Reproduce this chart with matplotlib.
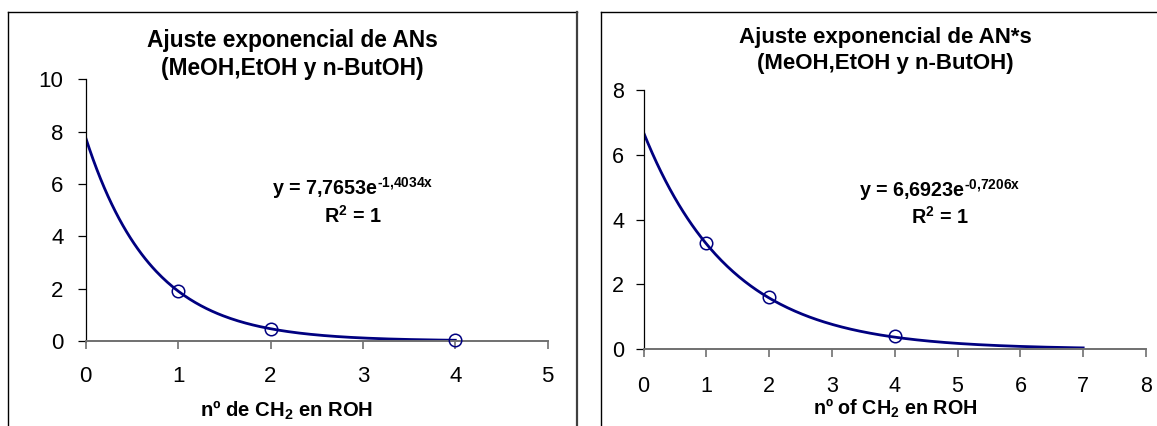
import numpy as np
import matplotlib
matplotlib.use("Agg")
import matplotlib.pyplot as plt
from matplotlib.lines import Line2D

plt.rcParams['font.family'] = ['Liberation Sans', 'DejaVu Sans']
plt.rcParams['mathtext.fontset'] = 'custom'
plt.rcParams['mathtext.rm'] = 'Liberation Sans'
plt.rcParams['mathtext.it'] = 'Liberation Sans:italic'
plt.rcParams['mathtext.bf'] = 'Liberation Sans:bold'

# data
x_an = [1, 2, 4]
y_an = [1.90, 0.47, 0.03]
x_anstar = [1, 2, 4]
y_anstar = [3.27, 1.60, 0.40]

# trendline coefficients as printed on the chart
a_an, b_an = 7.7653, -1.4034
a_anstar, b_anstar = 6.6923, -0.7206
trend_end_an = 4
trend_end_anstar = 7

W, H = 1157, 426
fig = plt.figure(figsize=(W / 100, H / 100), dpi=100)
navy = '#000080'


def fx(px):
    return px / W


def fy(py):
    return 1 - py / H


def style_axes(ax, ylab_pad, xlab_pad, size):
    ax.spines['top'].set_visible(False)
    ax.spines['right'].set_visible(False)
    ax.spines['left'].set_color('black')
    ax.spines['left'].set_linewidth(0.9)
    ax.spines['bottom'].set_color('#707070')
    ax.spines['bottom'].set_linewidth(1.4)
    ax.tick_params(axis='y', direction='out', length=6, width=0.9, pad=ylab_pad, labelsize=size)
    ax.tick_params(axis='x', direction='out', length=6, width=1.2, color='#707070', pad=xlab_pad, labelsize=size)


# left chart
ax1 = fig.add_axes([fx(85.7), fy(341), fx(547.7 - 85.7), (341 - 79.3) / H])
xs = np.linspace(0, trend_end_an, 200)
ax1.plot(xs, a_an * np.exp(b_an * xs), color=navy, lw=2.0, zorder=2)
ax1.plot(x_an, y_an, 'o', mfc='none', mec=navy, ms=9, mew=1.1, zorder=3, clip_on=False)
ax1.set_xlim(0, 5)
ax1.set_ylim(0, 10)
ax1.set_xticks(range(0, 6))
ax1.set_yticks(range(0, 11, 2))
style_axes(ax1, 10, 12, 16)

# right chart
ax2 = fig.add_axes([fx(643.5), fy(349.3), fx(1146 - 643.5), (349.3 - 90) / H])
xs = np.linspace(0, trend_end_anstar, 300)
ax2.plot(xs, a_anstar * np.exp(b_anstar * xs), color=navy, lw=2.0, zorder=2)
ax2.plot(x_anstar, y_anstar, 'o', mfc='none', mec=navy, ms=9, mew=1.1, zorder=3, clip_on=False)
ax2.set_xlim(0, 8)
ax2.set_ylim(0, 8)
ax2.set_xticks(range(0, 9))
ax2.set_yticks(range(0, 9, 2))
style_axes(ax2, 8, 13, 15.5)

# titles
fig.text(fx(292), fy(41), 'Ajuste exponencial de ANs', ha='center', va='center', fontsize=16.4, fontweight='bold')
fig.text(fx(292), fy(68), '(MeOH,EtOH y n-ButOH)', ha='center', va='center', fontsize=16.4, fontweight='bold')
fig.text(fx(885), fy(37), 'Ajuste exponencial de AN*s', ha='center', va='center', fontsize=16, fontweight='bold')
fig.text(fx(885), fy(63), '(MeOH,EtOH y n-ButOH)', ha='center', va='center', fontsize=16, fontweight='bold')


def eq_text(a, b):
    a_s = f'{a:.4f}'.replace('.', ',')
    b_s = f'{b:.4f}'.replace('.', '{,}').replace('-', '\u2010')
    return 'y = ' + a_s + 'e$^{\\mathbf{' + b_s + 'x}}$'


fig.text(fx(353), fy(188), eq_text(a_an, b_an), ha='center', va='center', fontsize=14.2, fontweight='bold')
fig.text(fx(353), fy(216), 'R$^{\\mathbf{2}}$ = 1', ha='center', va='center', fontsize=14.2, fontweight='bold')
fig.text(fx(940), fy(190), eq_text(a_anstar, b_anstar), ha='center', va='center', fontsize=14.2, fontweight='bold')
fig.text(fx(940), fy(217), 'R$^{\\mathbf{2}}$ = 1', ha='center', va='center', fontsize=14.2, fontweight='bold')

# x labels
fig.text(fx(287), fy(410), 'nº de CH$_{\\mathbf{2}}$ en ROH', ha='center', va='center', fontsize=14.6, fontweight='bold')
fig.text(fx(895), fy(408), 'nº of CH$_{\\mathbf{2}}$ en ROH', ha='center', va='center', fontsize=14.2, fontweight='bold')

# chart frames
frame_kw = dict(color='black', lw=1.0, transform=fig.transFigure)
fig.add_artist(Line2D([fx(8), fx(8)], [0, fy(12)], **frame_kw))
fig.add_artist(Line2D([fx(8), fx(577)], [fy(12), fy(12)], **frame_kw))
fig.add_artist(Line2D([fx(577), fx(577)], [0, fy(12)], color='#404040', lw=1.6, transform=fig.transFigure))
fig.add_artist(Line2D([fx(601), fx(601)], [0, fy(12)], **frame_kw))
fig.add_artist(Line2D([fx(601), 1], [fy(12), fy(12)], **frame_kw))

fig.savefig('out.png', dpi=100)
